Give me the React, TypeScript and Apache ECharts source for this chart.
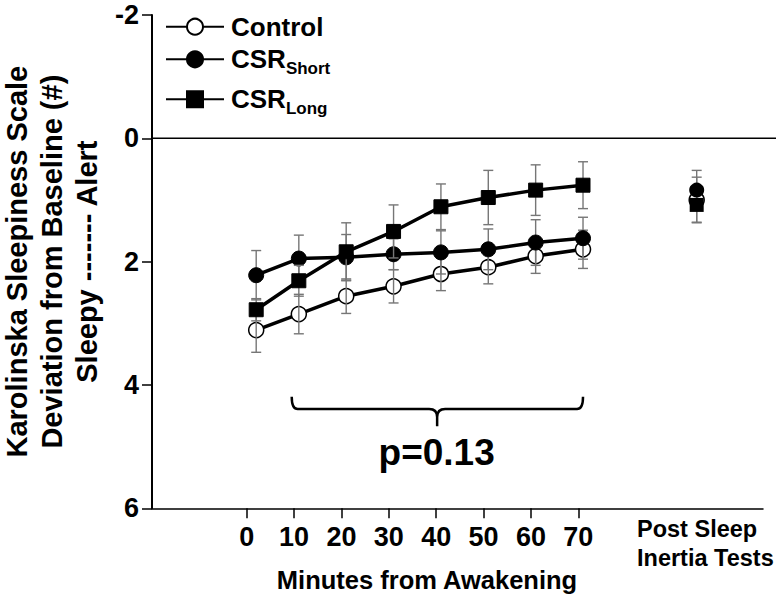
import React, { useEffect, useRef } from 'react';
import * as echarts from 'echarts';

// ---- data ----
const timePoints = [2, 11, 21, 31, 41, 51, 61, 71];
const control = [3.11, 2.85, 2.56, 2.40, 2.20, 2.09, 1.91, 1.80];
const controlSem = [0.36, 0.32, 0.28, 0.27, 0.27, 0.27, 0.28, 0.31];
const csrShort = [2.22, 1.95, 1.93, 1.88, 1.85, 1.80, 1.69, 1.62];
const csrShortSem = [0.40, 0.38, 0.37, 0.25, 0.35, 0.33, 0.37, 0.34];
const csrLong = [2.78, 2.31, 1.84, 1.51, 1.11, 0.96, 0.84, 0.76];
const csrLongSem = [0.18, 0.25, 0.47, 0.43, 0.37, 0.44, 0.41, 0.38];

const postX = 95;
const postControl = [1.0, 0.37];
const postShort = [0.84, 0.32];
const postLong = [1.08, 0.28];

const xTicks = [0, 10, 20, 30, 40, 50, 60, 70];
const seriesNames = ['Control', 'CSR_Short', 'CSR_Long'];
const yTitleLines = ['Karolinska Sleepiness Scale', 'Deviation from Baseline (#)', 'Sleepy ------- Alert'];
const pText = 'p=0.13';
const bracketRange = [9.5, 71];
const bracketMid = 40.2;
const bracketTipY = 4.19;
const bracketLineY = 4.39;
const bracketNubY = 4.67;
const pTextPos = [40.1, 5.1];

const FONT = 'Liberation Sans, Arial, Helvetica, sans-serif';

function errData(vals: number[], sems: number[], post: number[]) {
  const d = timePoints.map((t, i) => [t, vals[i] - sems[i], vals[i] + sems[i]]);
  d.push([postX, post[0] - post[1], post[0] + post[1]]);
  return d;
}

function errSeries(name: string, data: number[][], z: number) {
  return {
    type: 'custom',
    name,
    z,
    coordinateSystem: 'cartesian2d',
    encode: { x: 0, y: [1, 2] },
    data,
    clip: false,
    renderItem: (params: any, api: any) => {
      const x = api.value(0);
      const p1 = api.coord([x, api.value(1)]);
      const p2 = api.coord([x, api.value(2)]);
      const w = 5;
      const style = { stroke: '#767676', lineWidth: 1.4 };
      return {
        type: 'group',
        children: [
          { type: 'line', shape: { x1: p1[0], y1: p1[1], x2: p2[0], y2: p2[1] }, style },
          { type: 'line', shape: { x1: p1[0] - w, y1: p1[1], x2: p1[0] + w, y2: p1[1] }, style },
          { type: 'line', shape: { x1: p2[0] - w, y1: p2[1], x2: p2[0] + w, y2: p2[1] }, style },
        ],
      };
    },
  };
}

export default function App() {
  const ref = useRef<HTMLDivElement>(null);
  useEffect(() => {
    document.body.style.margin = '0';
    const chart = echarts.init(ref.current!, null, { renderer: 'svg' });

    const rich = {
      a: { fontSize: 26, fontWeight: 'bold', fontFamily: FONT, color: '#000', lineHeight: 26, padding: [0, 0, 0, 2] },
      b: { fontSize: 17, fontWeight: 'bold', fontFamily: FONT, color: '#000', lineHeight: 18, padding: [19, 0, 0, 0] },
    };
    const legendCommon = {
      orient: 'vertical',
      left: 165,
      padding: 0,
      itemWidth: 58,
      itemHeight: 20,
      selectedMode: false,
      textStyle: { rich },
      formatter: (name: string) => {
        const parts = name.split('_');
        return parts.length > 1 ? `{a|${parts[0]}}{b|${parts[1]}}` : `{a|${name}}`;
      },
    };

    const lineStyle = { color: '#000', width: 3.5 };
    const mk = (vals: number[]) => timePoints.map((t, i) => [t, vals[i]]);

    const option: any = {
      animation: false,
      grid: { left: 152, top: 15, right: 13, bottom: 89.7, containLabel: false },
      legend: [
        { ...legendCommon, data: [seriesNames[0]], top: 13.7 },
        { ...legendCommon, data: [seriesNames[1]], top: 41.3 },
        { ...legendCommon, data: [seriesNames[2]], top: 81.3 },
      ],
      xAxis: {
        type: 'value',
        min: -20,
        max: 109,
        axisLine: { show: true, onZero: false, lineStyle: { color: '#000', width: 1.5 } },
        axisTick: { show: true, customValues: xTicks, length: 10, lineStyle: { color: '#000', width: 1.5 } },
        axisLabel: {
          customValues: xTicks,
          fontSize: 27,
          fontWeight: 'bold',
          fontFamily: FONT,
          color: '#000',
          margin: 15,
        },
        splitLine: { show: false },
      },
      yAxis: {
        type: 'value',
        inverse: true,
        min: -2,
        max: 6,
        interval: 2,
        axisLine: { show: true, onZero: false, lineStyle: { color: '#000', width: 2 } },
        axisTick: { show: true, length: 10, lineStyle: { color: '#000', width: 1.5 } },
        axisLabel: { fontSize: 27, fontWeight: 'bold', fontFamily: FONT, color: '#000', margin: 13 },
        splitLine: { show: false },
      },
      series: [
        {
          type: 'line',
          name: 'Control',
          z: 2,
          data: mk(control),
          symbol: 'circle',
          symbolSize: 15,
          lineStyle,
          itemStyle: { color: '#fff', borderColor: '#000', borderWidth: 1.5 },
        },
        {
          type: 'scatter',
          name: 'Control post',
          z: 2,
          data: [[postX, postControl[0]]],
          symbol: 'circle',
          symbolSize: 15,
          itemStyle: { color: '#fff', borderColor: '#000', borderWidth: 1.5, opacity: 1 },
        },
        errSeries('Control SEM', errData(control, controlSem, postControl), 3),
        errSeries('CSR_Short SEM', errData(csrShort, csrShortSem, postShort), 4),
        {
          type: 'line',
          name: 'CSR_Short',
          z: 5,
          data: mk(csrShort),
          symbol: 'circle',
          symbolSize: 15,
          lineStyle,
          itemStyle: { color: '#000', borderColor: '#000', borderWidth: 1 },
        },
        errSeries('CSR_Long SEM', errData(csrLong, csrLongSem, postLong), 6),
        {
          type: 'scatter',
          name: 'CSR_Long post',
          z: 6.5,
          data: [[postX, postLong[0]]],
          symbol: 'rect',
          symbolSize: 14,
          itemStyle: { color: '#000', opacity: 1 },
        },
        {
          type: 'scatter',
          name: 'CSR_Short post',
          z: 7,
          data: [[postX, postShort[0]]],
          symbol: 'circle',
          symbolSize: 15,
          itemStyle: { color: '#000', opacity: 1 },
        },
        {
          type: 'line',
          name: 'CSR_Long',
          z: 7,
          data: mk(csrLong),
          symbol: 'rect',
          symbolSize: 14,
          lineStyle,
          itemStyle: { color: '#000', borderColor: '#000', borderWidth: 1 },
        },
        {
          type: 'custom',
          name: 'bracket',
          z: 8,
          coordinateSystem: 'cartesian2d',
          clip: false,
          data: [[bracketMid, bracketLineY]],
          renderItem: (params: any, api: any) => {
            const L = api.coord([bracketRange[0], bracketTipY]);
            const R = api.coord([bracketRange[1], bracketTipY]);
            const M = api.coord([bracketMid, bracketLineY]);
            const N = api.coord([bracketMid, bracketNubY]);
            const P = api.coord(pTextPos);
            const yl = M[1];
            const xm = M[0];
            const d =
              `M${L[0]},${L[1]} Q${L[0]},${yl} ${L[0] + 6},${yl} L${xm - 8},${yl} Q${xm},${yl} ${xm},${yl + 8} L${xm},${N[1]} ` +
              `M${xm + 8},${yl} Q${xm},${yl} ${xm},${yl + 8} ` +
              `M${xm + 8},${yl} L${R[0] - 6},${yl} Q${R[0]},${yl} ${R[0]},${R[1]}`;
            return {
              type: 'group',
              children: [
                { type: 'path', shape: { pathData: d }, style: { stroke: '#000', lineWidth: 2.5, fill: 'none' } },
                {
                  type: 'text',
                  x: P[0],
                  y: P[1],
                  style: {
                    text: pText,
                    fontSize: 37,
                    fontWeight: 'bold',
                    fontFamily: FONT,
                    fill: '#000',
                    align: 'center',
                    verticalAlign: 'middle',
                  },
                },
              ],
            };
          },
        },
      ],
    };
    chart.setOption(option);

    const y0 = chart.convertToPixel({ yAxisIndex: 0 }, 0) as number;
    const yTop = chart.convertToPixel({ yAxisIndex: 0 }, -2) as number;
    const yBot = chart.convertToPixel({ yAxisIndex: 0 }, 6) as number;
    const yMid = (yTop + yBot) / 2;
    const titleStyle = { fontSize: 29, fontWeight: 'bold', fontFamily: FONT, fill: '#000', align: 'center', verticalAlign: 'middle' };
    const titleX = [17, 52, 87];
    chart.setOption({
      graphic: [
        { id: 'zero', type: 'line', shape: { x1: 152, y1: y0, x2: 776, y2: y0 }, style: { stroke: '#000', lineWidth: 1.5 }, z: 1 },
        ...yTitleLines.map((t, i) => ({
          id: 't' + i,
          type: 'text',
          x: titleX[i],
          y: yMid,
          rotation: Math.PI / 2,
          style: { ...titleStyle, text: t },
        })),
        { id: 'xname', type: 'text', x: 427, y: 580, style: { ...titleStyle, fontSize: 25.5, text: 'Minutes from Awakening' } },
        { id: 'post1', type: 'text', x: 637, y: 529, style: { ...titleStyle, fontSize: 23.5, align: 'left', text: 'Post Sleep' } },
        { id: 'post2', type: 'text', x: 637, y: 558, style: { ...titleStyle, fontSize: 23.5, align: 'left', text: 'Inertia Tests' } },
      ],
    });

    return () => chart.dispose();
  }, []);
  return <div ref={ref} style={{ width: 776, height: 598 }} />;
}
